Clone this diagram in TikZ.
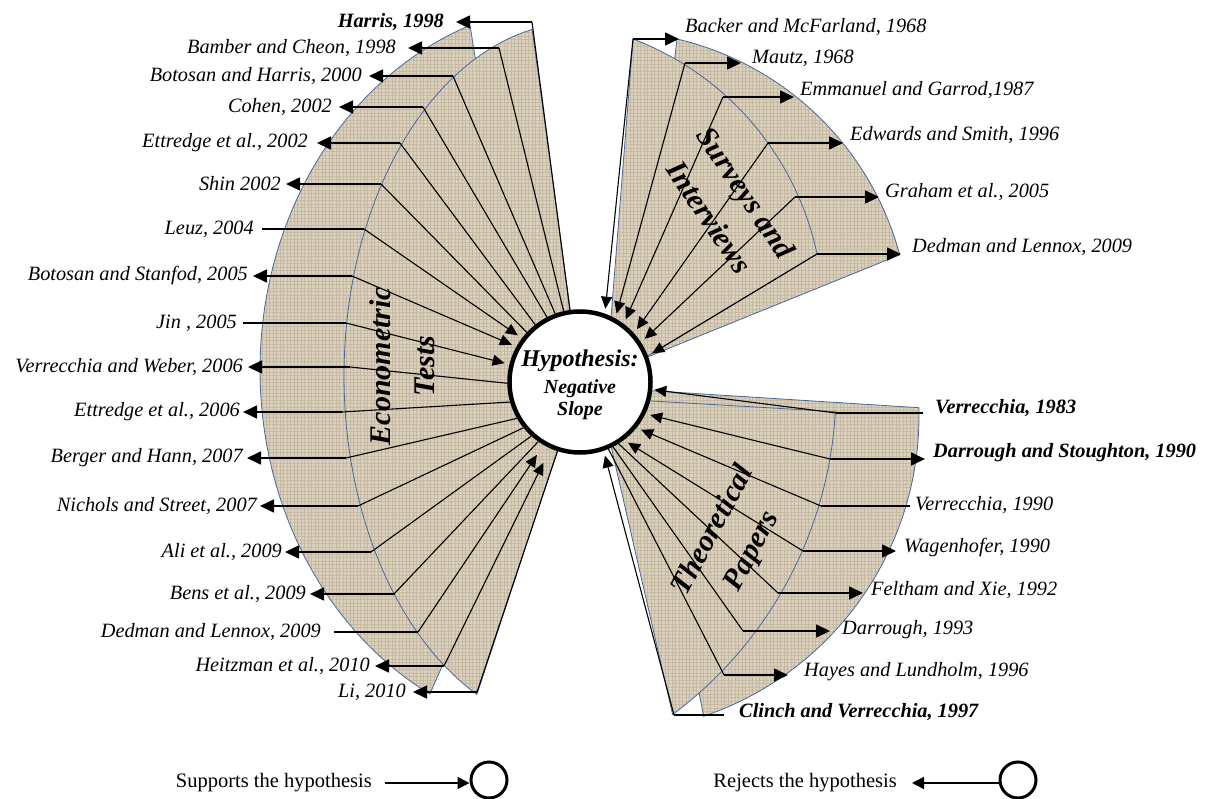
\documentclass[tikz,border=0pt]{standalone}
\usepackage{fontspec}
\setmainfont{Liberation Serif}
\usetikzlibrary{arrows.meta,calc,patterns.meta}
\definecolor{burlap}{RGB}{219,209,190}
\definecolor{weave}{RGB}{197,185,161}
\definecolor{edgeblue}{RGB}{70,104,158}
\tikzset{
 lab/.style={font=\fontsize{20.3}{22}\selectfont\itshape, inner xsep=5pt, inner ysep=0pt},
 labb/.style={font=\fontsize{20.3}{22}\selectfont\bfseries\itshape, inner xsep=5pt, inner ysep=0pt},
 spoke/.style={line width=1.1pt},
 arm/.style={line width=1.6pt},
 toLab/.style={-{Triangle[length=14pt,width=13pt]}},
 toHyp/.style={{Triangle[length=12pt,width=11pt]}-, shorten <=5pt},
 grp/.style={font=\fontsize{30}{44}\selectfont\bfseries\itshape, align=center, inner sep=0pt},
}
\newcommand\pathLA{plot[domain=249.9:118,samples=80,variable=\t] ({580+320*cos(\t)},{370+367*sin(\t)}) -- (538,450) -- cycle}
\newcommand\pathLB{plot[domain=258.3:115.9,samples=80,variable=\t] ({580+236*cos(\t)},{376+354*sin(\t)}) -- (580,382) -- cycle}
\newcommand\pathTA{plot[domain=-76.8:-15,samples=60,variable=\t] ({608+302*cos(\t)},{333+302*sin(\t)}) -- (640,360) -- cycle}
\newcommand\pathTB{plot[domain=-69.1:-12,samples=60,variable=\t] ({527.5+296*cos(\t)},{315.5+296*sin(\t)}) -- (606,381) -- cycle}
\newcommand\pathBA{plot[domain=-1.5:71.3,samples=60,variable=\t] ({602+317*cos(\t)},{416+317*sin(\t)}) -- (640,390) -- cycle}
\newcommand\pathBB{plot[domain=3.2:53.3,samples=60,variable=\t] ({430+406*cos(\t)},{389+406*sin(\t)}) -- (600,398) -- cycle}
\newcommand\wedgeshape[1]{%
 \fill[burlap] #1;
 \fill[pattern={Lines[angle=0,distance=3.5pt,line width=0.6pt]}, pattern color=weave] #1;
 \fill[pattern={Lines[angle=90,distance=3.5pt,line width=0.6pt]}, pattern color=weave] #1;
 \draw[edgeblue, line width=0.8pt] #1;}
\begin{document}
\begin{tikzpicture}[x=1pt,y=-1pt]
\useasboundingbox (0,0) rectangle (1207,799);
% ---------- wedges ----------
\wedgeshape{\pathLA}
\wedgeshape{\pathLB}
\wedgeshape{\pathTA}
\wedgeshape{\pathTB}
\wedgeshape{\pathBA}
\wedgeshape{\pathBB}

% ---------- group titles ----------
\node[grp, rotate=90] (gEco) at (402,366) {Econometric\\Tests};
\node[grp, rotate=-56] (gSur) at (728,205) {Surveys and\\Interviews};
\node[grp, rotate=62] (gThe) at (733,541) {Theoretical\\Papers};

% ---------- hypothesis ----------
\node[circle, draw, line width=4.5pt, fill=white, minimum size=141pt, inner sep=0pt] (hyp) at (580,382) {};
\node[font=\fontsize{24}{26}\selectfont\bfseries\itshape] (hA) at (580,361) {Hypothesis:};
\node[font=\fontsize{20}{22}\selectfont\bfseries\itshape] (hB) at (580,389) {Negative};
\node[font=\fontsize{20}{22}\selectfont\bfseries\itshape] (hC) at (580,411) {Slope};

% ---------- left group ----------
\coordinate (kL1) at (532,22);  \node[labb,anchor=east,inner xsep=12pt] (L1) at (456,22) {Harris, 1998};
\coordinate (kL2) at (499,48);  \node[lab,anchor=east,inner xsep=12pt] (L2) at (408,48) {Bamber and Cheon, 1998};
\coordinate (kL3) at (453,76);  \node[lab,anchor=east,inner xsep=7pt] (L3) at (369,76) {Botosan and Harris, 2000};
\coordinate (kL4) at (423,107); \node[lab,anchor=east,inner xsep=7pt] (L4) at (339,107) {Cohen, 2002};
\coordinate (kL5) at (400,143); \node[lab,anchor=east,inner xsep=9pt] (L5) at (317,143) {Ettredge et al., 2002};
\coordinate (kL6) at (381,184); \node[lab,anchor=east] (L6) at (286,184) {Shin 2002};
\coordinate (kL7) at (364,229); \node[lab,anchor=east,inner xsep=8pt] (L7) at (262,229) {Leuz, 2004};
\coordinate (kL8) at (352,276); \node[lab,anchor=east] (L8) at (253,276) {Botosan and Stanfod, 2005};
\coordinate (kL9) at (346,323); \node[lab,anchor=east,inner xsep=6pt] (L9) at (243,323) {Jin , 2005};
\coordinate (kL10) at (350,367); \node[lab,anchor=east] (L10) at (248,367) {Verrecchia and Weber, 2006};
\coordinate (kL11) at (342,412); \node[lab,anchor=east,inner xsep=3pt] (L11) at (243,412) {Ettredge et al., 2006};
\coordinate (kL12) at (346,458); \node[lab,anchor=east,inner xsep=4pt] (L12) at (247,458) {Berger and Hann, 2007};
\coordinate (kL13) at (358,506); \node[lab,anchor=east,inner xsep=3pt] (L13) at (260,506) {Nichols and Street, 2007};
\coordinate (kL14) at (371,552); \node[lab,anchor=east,inner xsep=3pt] (L14) at (285,552) {Ali et al., 2009};
\coordinate (kL15) at (394,594); \node[lab,anchor=east,inner xsep=4pt] (L15) at (310,594) {Bens et al., 2009};
\coordinate (kL16) at (418,632); \node[lab,anchor=east,inner xsep=13pt] (L16) at (334,632) {Dedman and Lennox, 2009};
\coordinate (kL17) at (444,666); \node[lab,anchor=east] (L17) at (375,666) {Heitzman et al., 2010};
\coordinate (kL18) at (477,692); \node[lab,anchor=east,inner xsep=7pt] (L18) at (413,692) {Li, 2010};

\draw[spoke] (hyp.98) -- (kL1);   \draw[arm,toLab] (kL1) -- (kL1 -| L1.east);
\draw[spoke] (hyp.103.5) -- (kL2); \draw[arm,toLab] (kL2) -- (kL2 -| L2.east);
\draw[spoke] (hyp.110) -- (kL3);  \draw[arm,toLab] (kL3) -- (kL3 -| L3.east);
\draw[spoke] (hyp.117) -- (kL4);  \draw[arm,toLab] (kL4) -- (kL4 -| L4.east);
\draw[spoke] (hyp.128) -- (kL5);  \draw[arm,toLab] (kL5) -- (kL5 -| L5.east);
\draw[spoke] (hyp.137) -- (kL6);  \draw[arm,toLab] (kL6) -- (kL6 -| L6.east);
\draw[spoke,toHyp] (hyp.143) -- (kL7);  \draw[arm] (kL7) -- (kL7 -| L7.east);
\draw[spoke,toHyp] (hyp.151) -- (kL8);  \draw[arm,toLab] (kL8) -- (kL8 -| L8.east);
\draw[spoke,toHyp] (hyp.166) -- (kL9);  \draw[arm] (kL9) -- (kL9 -| L9.east);
\draw[spoke] (hyp.181) -- (kL10); \draw[arm,toLab] (kL10) -- (kL10 -| L10.east);
\draw[spoke] (hyp.196) -- (kL11); \draw[arm,toLab] (kL11) -- (kL11 -| L11.east);
\draw[spoke] (hyp.210) -- (kL12); \draw[arm,toLab] (kL12) -- (kL12 -| L12.east);
\draw[spoke] (hyp.219) -- (kL13); \draw[arm,toLab] (kL13) -- (kL13 -| L13.east);
\draw[spoke] (hyp.228) -- (kL14); \draw[arm,toLab] (kL14) -- (kL14 -| L14.east);
\draw[spoke] (hyp.235) -- (kL15); \draw[arm,toLab] (kL15) -- (kL15 -| L15.east);
\draw[spoke,toHyp,shorten <=12pt] (hyp.240) -- (kL16); \draw[arm] (kL16) -- (kL16 -| L16.east);
\draw[spoke,toHyp,shorten <=16pt] (hyp.246) -- (kL17); \draw[arm,toLab] (kL17) -- (kL17 -| L17.east);
\draw[spoke] (hyp.252) -- (kL18); \draw[arm,toLab] (kL18) -- (kL18 -| L18.east);

% ---------- top-right group ----------
\coordinate (kR1) at (633,39);  \node[lab,anchor=west,inner xsep=6pt] (R1) at (679,27) {Backer and McFarland, 1968};
\coordinate (kR2) at (685,63);  \node[lab,anchor=west,inner xsep=11pt] (R2) at (741,58) {Mautz, 1968};
\coordinate (kR3) at (723,97);  \node[lab,anchor=west,inner xsep=6pt] (R3) at (794,90) {Emmanuel and Garrod,1987};
\coordinate (kR4) at (768,143); \node[lab,anchor=west,inner xsep=7pt] (R4) at (843,135) {Edwards and Smith, 1996};
\coordinate (kR5) at (795,197); \node[lab,anchor=west,inner xsep=6pt] (R5) at (879,192) {Graham et al., 2005};
\coordinate (kR6) at (817,254); \node[lab,anchor=west,inner xsep=11pt] (R6) at (901,247) {Dedman and Lennox, 2009};

\draw[spoke,toHyp] (hyp.70) -- (kR1);   \draw[arm,toLab] (kR1) -- (kR1 -| R1.west);
\draw[spoke,toHyp] (hyp.61.5) -- (kR2); \draw[arm,toLab] (kR2) -- (kR2 -| R2.west);
\draw[spoke,toHyp] (hyp.53.6) -- (kR3); \draw[arm,toLab] (kR3) -- (kR3 -| R3.west);
\draw[spoke,toHyp] (hyp.42) -- (kR4);   \draw[arm,toLab] (kR4) -- (kR4 -| R4.west);
\draw[spoke,toHyp] (hyp.33) -- (kR5);   \draw[arm,toLab] (kR5) -- (kR5 -| R5.west);
\draw[spoke,toHyp] (hyp.21.3) -- (kR6); \draw[arm,toLab] (kR6) -- (kR6 -| R6.west);

% ---------- bottom-right group ----------
\coordinate (kB1) at (836,413); \node[labb,anchor=west,inner xsep=12pt] (B1) at (923,408) {Verrecchia, 1983};
\coordinate (kB2) at (830,459); \node[labb,anchor=west,inner xsep=8pt] (B2) at (925,453) {Darrough and Stoughton, 1990};
\coordinate (kB3) at (821,506); \node[lab,anchor=west,inner xsep=5pt] (B3) at (910,505) {Verrecchia, 1990};
\coordinate (kB4) at (803,551); \node[lab,anchor=west,inner xsep=8pt] (B4) at (896,548) {Wagenhofer, 1990};
\coordinate (kB5) at (778,593); \node[lab,anchor=west,inner xsep=8pt] (B5) at (863,590) {Feltham and Xie, 1992};
\coordinate (kB6) at (743,631); \node[lab,anchor=west,inner xsep=12pt] (B6) at (830,630) {Darrough, 1993};
\coordinate (kB7) at (724,675); \node[lab,anchor=west,inner xsep=16pt] (B7) at (788,672) {Hayes and Lundholm, 1996};
\coordinate (kB8) at (674,715); \node[labb,anchor=west,inner xsep=15pt] (B8) at (724,712) {Clinch and Verrecchia, 1997};

\draw[spoke,toHyp,shorten <=2pt] (hyp.-6) -- (kB1);  \draw[arm] (kB1) -- (kB1 -| B1.west);
\draw[spoke,toHyp] (hyp.-26) -- (kB2); \draw[arm,toLab] (kB2) -- (kB2 -| B2.west);
\draw[spoke,toHyp] (hyp.-39) -- (kB3); \draw[arm] (kB3) -- (kB3 -| B3.west);
\draw[spoke,toHyp] (hyp.-53) -- (kB4); \draw[arm,toLab] (kB4) -- (kB4 -| B4.west);
\draw[spoke] (hyp.-58) -- (kB5); \draw[arm,toLab] (kB5) -- (kB5 -| B5.west);
\draw[spoke] (hyp.-63) -- (kB6); \draw[arm,toLab] (kB6) -- (kB6 -| B6.west);
\draw[spoke] (hyp.-67) -- (kB7); \draw[arm,toLab] (kB7) -- (kB7 -| B7.west);
\draw[spoke,toHyp] (hyp.-71) -- (kB8); \draw[arm] (kB8) -- (kB8 -| B8.west);

% ---------- legend ----------
\node[font=\fontsize{20.5}{22}\selectfont, anchor=east, inner xsep=0pt] (sup) at (372,783) {Supports the hypothesis};
\node[circle, draw, line width=3pt, minimum size=36pt, inner sep=0pt] (c1) at (489,780) {};
\coordinate (a1) at (385,783);
\draw[arm,-{Triangle[length=12pt,width=12pt]}] (a1) -- (a1 -| c1.west);
\node[font=\fontsize{20.5}{22}\selectfont, anchor=east, inner xsep=15pt] (rej) at (912,783) {Rejects the hypothesis};
\node[circle, draw, line width=3pt, minimum size=36pt, inner sep=0pt] (c2) at (1018,780) {};
\draw[arm,-{Triangle[length=12pt,width=12pt]}] (c2.west |- rej.east) -- (rej.east);
\end{tikzpicture}
\end{document}
